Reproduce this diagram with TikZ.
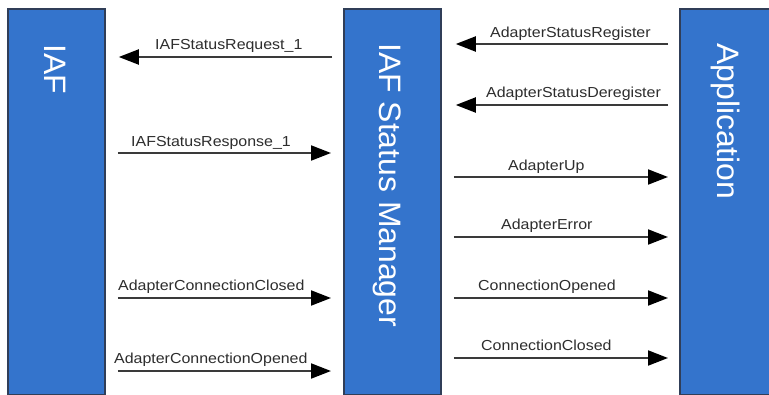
\documentclass[tikz,border=0pt]{standalone}
\usepackage{fontspec}
\setmainfont{Liberation Sans}
\newfontfamily\boxfont[FakeStretch=1.03]{Liberation Sans}
\newfontfamily\msgfont[FakeStretch=1.1]{Liberation Sans}
\usetikzlibrary{arrows.meta}
\definecolor{boxblue}{RGB}{52,116,204}
\definecolor{boxedge}{RGB}{48,62,88}
\definecolor{msgline}{RGB}{58,58,58}
\definecolor{msgtext}{RGB}{45,45,45}
\tikzset{
  lifeline/.style={draw=boxedge, line width=1.8pt, fill=boxblue, inner sep=0pt, anchor=north west},
  boxtitle/.style={text=white, font=\boxfont\fontsize{31}{34}\selectfont, rotate=-90, anchor=base west, inner sep=0pt},
  msg/.style={draw=msgline, line width=2pt, -{Triangle[length=20pt,width=15pt,fill=black,color=black]}},
  msglabel/.style={text=msgtext, font=\msgfont\fontsize{14.5}{16}\selectfont, anchor=base west, inner sep=0pt}
}
\begin{document}
\begin{tikzpicture}[x=1pt,y=-1pt]
\useasboundingbox (0,0) rectangle (769,394);
\clip (0,0) rectangle (769,394);
\fill[white] (0,0) rectangle (769,394);

% the three participants
\node[lifeline, minimum width=97pt, minimum height=386pt] (iaf) at (7,8) {};
\node[lifeline, minimum width=97pt, minimum height=386pt] (mgr) at (343,8) {};
\node[lifeline, minimum width=110pt, minimum height=386pt] (app) at (679,8) {};

\node[boxtitle] (iaft) at (44,44) {IAF};
\node[boxtitle] (mgrt) at (379,43) {IAF Status Manager};
\node[boxtitle] (appt) at (717,43) {Application};

% messages between IAF and the status manager
\draw[msg, shorten <=11pt, shorten >=13pt] (mgr.west |- 0,57) -- (iaf.east |- 0,57);
\draw[msg, shorten <=12pt, shorten >=12pt] (iaf.east |- 0,153) -- (mgr.west |- 0,153);
\draw[msg, shorten <=12pt, shorten >=12pt] (iaf.east |- 0,298) -- (mgr.west |- 0,298);
\draw[msg, shorten <=12pt, shorten >=12pt] (iaf.east |- 0,371) -- (mgr.west |- 0,371);

\node[msglabel] (l1) at (155,49) {IAFStatusRequest\_1};
\node[msglabel] (l2) at (131,146) {IAFStatusResponse\_1};
\node[msglabel] (l3) at (118,290) {AdapterConnectionClosed};
\node[msglabel] (l4) at (114,363) {AdapterConnectionOpened};

% messages between the status manager and the application
\draw[msg, shorten <=11pt, shorten >=14pt] (app.west |- 0,44) -- (mgr.east |- 0,44);
\draw[msg, shorten <=11pt, shorten >=14pt] (app.west |- 0,105) -- (mgr.east |- 0,105);
\draw[msg, shorten <=12pt, shorten >=11pt] (mgr.east |- 0,177) -- (app.west |- 0,177);
\draw[msg, shorten <=12pt, shorten >=11pt] (mgr.east |- 0,237) -- (app.west |- 0,237);
\draw[msg, shorten <=12pt, shorten >=11pt] (mgr.east |- 0,298) -- (app.west |- 0,298);
\draw[msg, shorten <=12pt, shorten >=11pt] (mgr.east |- 0,358) -- (app.west |- 0,358);

\node[msglabel] (l5) at (490,37) {AdapterStatusRegister};
\node[msglabel] (l6) at (486,97) {AdapterStatusDeregister};
\node[msglabel] (l7) at (508,170) {AdapterUp};
\node[msglabel] (l8) at (501,229) {AdapterError};
\node[msglabel] (l9) at (478,290) {ConnectionOpened};
\node[msglabel] (l10) at (481,350) {ConnectionClosed};
\end{tikzpicture}
\end{document}
